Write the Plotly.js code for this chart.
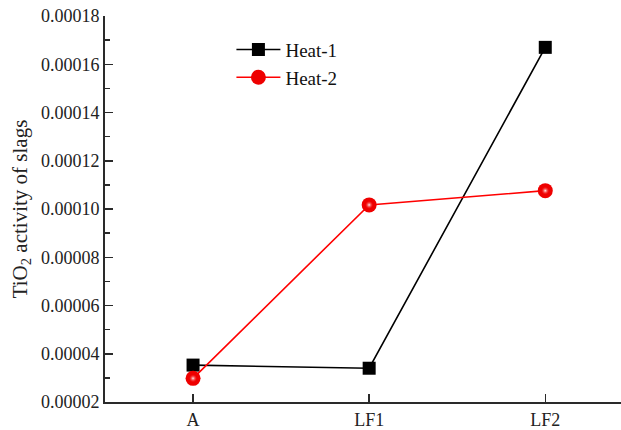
<!DOCTYPE html>
<html>
<head>
<meta charset="utf-8">
<script src="https://cdn.plot.ly/plotly-3.0.1.min.js"></script>
<style>html,body{margin:0;padding:0;background:#fff;}#chart{width:621px;height:430px;}</style>
</head>
<body>
<div id="chart"></div>
<script>
const categories = ["A", "LF1", "LF2"];
const heat1 = [0.0000353, 0.0000340, 0.000167];
const heat2 = [0.0000298, 0.0001017, 0.0001076];
const seriesNames = ["Heat-1", "Heat-2"];
const yTickVals = [0.00002, 0.00004, 0.00006, 0.00008, 0.00010, 0.00012, 0.00014, 0.00016, 0.00018];

const FONT = "'Liberation Serif', 'Times New Roman', Times, serif";
const xIdx = categories.map((c, i) => i);

const traces = [
  {
    x: xIdx, y: heat1, name: seriesNames[0], type: "scatter", mode: "lines+markers",
    line: {color: "#000000", width: 1.6},
    marker: {symbol: "square", size: 13, color: "#000000"}
  },
  {
    x: xIdx, y: heat2, name: seriesNames[1], type: "scatter", mode: "lines+markers",
    line: {color: "#ff0000", width: 1.6},
    marker: {symbol: "circle", size: 15, color: "#ee0000", line: {width: 0}}
  },
  {
    x: xIdx, y: heat2, name: "", type: "scatter", mode: "markers", showlegend: false,
    marker: {symbol: "circle", size: 8, color: "rgba(255,40,40,0)",
             gradient: {type: "radial", color: "rgba(255,255,255,0.95)"}, line: {width: 0}}
  }
];

const layout = {
  width: 621, height: 430,
  margin: {l: 105, r: 0, t: 16, b: 28, pad: 0},
  paper_bgcolor: "#ffffff", plot_bgcolor: "#ffffff",
  font: {family: FONT, size: 18, color: "#222222"},
  showlegend: true,
  legend: {x: 0.245, y: 0.962, xanchor: "left", yanchor: "top",
           bgcolor: "rgba(0,0,0,0)", font: {family: FONT, size: 19, color: "#111"},
           tracegroupgap: 0, itemwidth: 44},
  xaxis: {
    range: [-0.5, 2.43], tickvals: xIdx, ticktext: categories,
    showgrid: false, zeroline: false, showline: true, linecolor: "#2a2a2a", linewidth: 2,
    ticks: "inside", ticklen: 8, tickwidth: 1.5, tickcolor: "#2a2a2a",
    tickfont: {family: FONT, size: 18, color: "#222"}, fixedrange: true
  },
  yaxis: {
    range: [0.00002, 0.00018], tickvals: yTickVals, tickformat: ".5f",
    showgrid: false, zeroline: false, showline: true, linecolor: "#2a2a2a", linewidth: 2,
    ticks: "inside", ticklen: 8, tickwidth: 1.5, tickcolor: "#2a2a2a",
    minor: {dtick: 0.00001, ticks: "inside", ticklen: 5, tickwidth: 1.5, tickcolor: "#2a2a2a"},
    tickfont: {family: FONT, size: 18, color: "#222"},
    title: {text: "TiO<sub>2</sub> activity of slags", font: {family: FONT, size: 21, color: "#222"}, standoff: 8},
    fixedrange: true
  }
};

Plotly.newPlot("chart", traces, layout, {displayModeBar: false, staticPlot: true});
</script>
</body>
</html>
